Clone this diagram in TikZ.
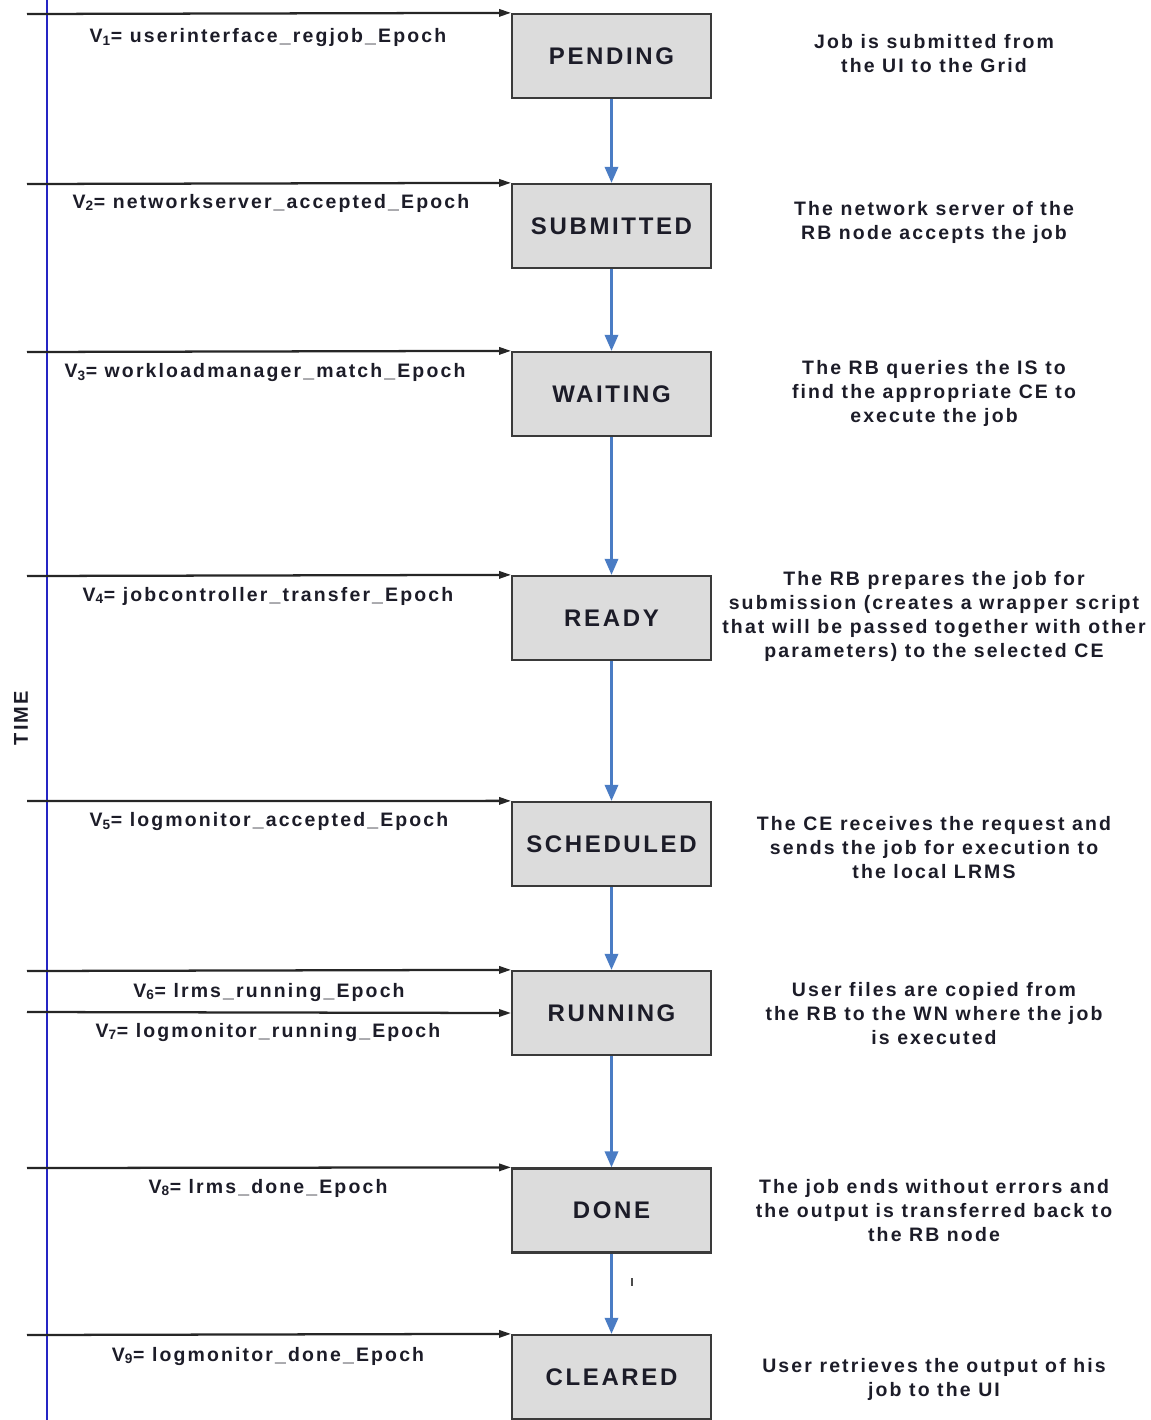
\documentclass[tikz,border=0pt]{standalone}
\usepackage{fontspec}
\setmainfont{Liberation Sans}[LetterSpace=11]
\usetikzlibrary{arrows.meta}
\definecolor{boxfill}{HTML}{DCDCDC}
\definecolor{boxline}{HTML}{3A3A3A}
\definecolor{flowblue}{HTML}{4A7CC4}
\definecolor{timeblue}{HTML}{2525C4}
\definecolor{txt}{HTML}{1C1C28}
\tikzset{
  statebox/.style={draw=boxline, fill=boxfill, line width=1.7pt, minimum width=149pt, minimum height=63pt, inner sep=0pt,
    font=\fontsize{18}{20}\selectfont\bfseries, text=txt},
  vlabel/.style={font=\fontsize{14.6}{16}\selectfont\bfseries, text=txt, inner sep=0pt},
  desc/.style={font=\fontsize{14.6}{18}\selectfont\bfseries, text=txt, align=center, inner sep=0pt},
  timearrow/.style={line width=1.7pt, draw=black!85, -{Triangle[length=9pt,width=5.5pt]}},
  flowarrow/.style={line width=1.8pt, draw=flowblue, -{Triangle[length=12pt,width=10pt]}},
}
\begin{document}
\begin{tikzpicture}[x=0.75pt,y=-0.75pt]
\useasboundingbox (0,0) rectangle (1150,1420);
% time axis
\coordinate (ttop) at (47,0);
\coordinate (tbot) at (47,1420);
\draw[timeblue, line width=1.6pt] (ttop) -- (tbot);
\node[rotate=90, font=\fontsize{15}{16}\selectfont\bfseries, text=txt] (time) at (21,718) {TIME};
% state boxes
\node[statebox] (pend) at (611.5,56) {PENDING};
\node[statebox] (subm) at (611.5,226) {SUBMITTED};
\node[statebox] (wait) at (611.5,394) {WAITING};
\node[statebox] (ready) at (611.5,618) {READY};
\node[statebox] (sched) at (611.5,844) {SCHEDULED};
\node[statebox] (run) at (611.5,1013) {RUNNING};
\node[statebox] (done) at (611.5,1210.5) {DONE};
\node[statebox] (clear) at (611.5,1377) {CLEARED};
% flow arrows
\draw[flowarrow] (pend) -- (subm);
\draw[flowarrow] (subm) -- (wait);
\draw[flowarrow] (wait) -- (ready);
\draw[flowarrow] (ready) -- (sched);
\draw[flowarrow] (sched) -- (run);
\draw[flowarrow] (run) -- (done);
\draw[flowarrow] (done) -- (clear);
\draw[black!70, line width=0.9pt] (632,1278) -- (632,1286);
% time arrows
\coordinate (s1) at (27,14);
\coordinate (s2) at (27,184);
\coordinate (s3) at (27,352);
\coordinate (s4) at (27,576);
\coordinate (s5) at (27,801);
\coordinate (s6) at (27,971);
\coordinate (s7) at (27,1012);
\coordinate (s8) at (27,1168);
\coordinate (s9) at (27,1335);
\draw[timearrow] (s1) -- (pend.north west);
\draw[timearrow] (s2) -- (subm.north west);
\draw[timearrow] (s3) -- (wait.north west);
\draw[timearrow] (s4) -- (ready.north west);
\draw[timearrow] (s5) -- (sched.north west);
\draw[timearrow] (s6) -- (run.north west);
\draw[timearrow] (s7) -- (run.west);
\draw[timearrow] (s8) -- (done.north west);
\draw[timearrow] (s9) -- (clear.north west);
% variable labels
\node[vlabel] (v1) at (268,38) {V\textsubscript{1}= userinterface\_regjob\_Epoch};
\node[vlabel] (v2) at (271,203) {V\textsubscript{2}= networkserver\_accepted\_Epoch};
\node[vlabel] (v3) at (265,373) {V\textsubscript{3}= workloadmanager\_match\_Epoch};
\node[vlabel] (v4) at (268,596) {V\textsubscript{4}= jobcontroller\_transfer\_Epoch};
\node[vlabel] (v5) at (269,822) {V\textsubscript{5}= logmonitor\_accepted\_Epoch};
\node[vlabel] (v6) at (269,992) {V\textsubscript{6}= lrms\_running\_Epoch};
\node[vlabel] (v7) at (268,1032) {V\textsubscript{7}= logmonitor\_running\_Epoch};
\node[vlabel] (v8) at (268,1188) {V\textsubscript{8}= lrms\_done\_Epoch};
\node[vlabel] (v9) at (268,1356) {V\textsubscript{9}= logmonitor\_done\_Epoch};
% descriptions
\node[desc] (d1) at (934,54) {Job is submitted from\\the UI to the Grid};
\node[desc] (d2) at (934,222) {The network server of the\\RB node accepts the job};
\node[desc] (d3) at (934,393) {The RB queries the IS to\\find the appropriate CE to\\execute the job};
\node[desc] (d4) at (934,616) {The RB prepares the job for\\submission (creates a wrapper script\\that will be passed together with other\\parameters) to the selected CE};
\node[desc] (d5) at (934,847.5) {The CE receives the request and\\sends the job for execution to\\the local LRMS};
\node[desc] (d6) at (934,1013.5) {User files are copied from\\the RB to the WN where the job\\is executed};
\node[desc] (d7) at (934,1210.5) {The job ends without errors and\\the output is transferred back to\\the RB node};
\node[desc] (d8) at (934,1379) {User retrieves the output of his\\job to the UI};
\end{tikzpicture}
\end{document}
